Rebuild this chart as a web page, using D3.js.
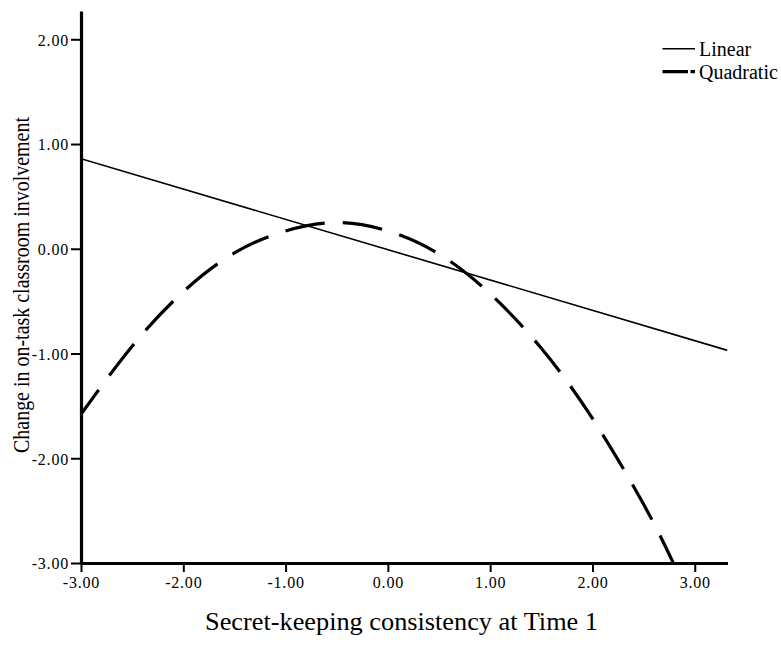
<!DOCTYPE html>
<html>
<head>
<meta charset="utf-8">
<script src="https://cdn.jsdelivr.net/npm/d3@7"></script>
<style>
  html, body { margin: 0; padding: 0; background: #fff; }
  svg { display: block; }
  text { font-family: "Liberation Serif", "Times New Roman", Times, serif; fill: #000; }
</style>
</head>
<body>
<svg id="chart" width="781" height="648"></svg>
<script>
// ---- data ----
const xTicks = [-3, -2, -1, 0, 1, 2, 3];
const yTicks = [-3, -2, -1, 0, 1, 2];
const linearX = [-3, 3.32];
const linearY = [0.86, -0.97];
const quadX = [-3, -2.5, -2, -1.5, -1, -0.5, 0, 0.5, 1, 1.5, 2, 2.5, 2.79];
const quadY = [-1.58, -0.93, -0.41, -0.04, 0.17, 0.25, 0.17, -0.05, -0.43, -0.95, -1.62, -2.44, -3.0];
const seriesNames = ["Linear", "Quadratic"];
const xTitle = "Secret-keeping consistency at Time 1";
const yTitle = "Change in on-task classroom involvement";

const SERIF = '"Liberation Serif", "Times New Roman", Times, serif';
const svg = d3.select("#chart");
const x = d3.scaleLinear().domain([-3, 3.32]).range([81, 727.5]);
const y = d3.scaleLinear().domain([-3, 2.27]).range([563, 11]);
const fmt = d => d.toFixed(2);

// axes
const gx = svg.append("g").attr("transform", `translate(0,${y(-3)})`)
  .call(d3.axisBottom(x).tickValues(xTicks).tickFormat(fmt).tickSize(9).tickSizeOuter(0).tickPadding(4));
const gy = svg.append("g").attr("transform", `translate(${x(-3)},0)`)
  .call(d3.axisLeft(y).tickValues(yTicks).tickFormat(fmt).tickSize(10).tickSizeOuter(0).tickPadding(2));

[gx, gy].forEach(g => {
  g.attr("font-family", SERIF).attr("font-size", 16);
  g.select(".domain").attr("stroke", "#000").attr("stroke-width", 3.2);
  g.selectAll(".tick line").attr("stroke", "#000").attr("stroke-width", 2);
  g.selectAll(".tick text")
    .style("font-family", SERIF)
    .style("font-size", "16px").style("letter-spacing", "0.8px").attr("fill", "#000");
});
gy.selectAll(".tick text").attr("dy", "0.36em");
gx.selectAll(".tick text").attr("dy", "0.72em");

// clip region
svg.append("clipPath").attr("id", "plotclip").append("rect")
  .attr("x", x(-3)).attr("y", y(2.27)).attr("width", x(3.32) - x(-3)).attr("height", y(-3) - y(2.27));

const lineGen = d3.line().x(d => x(d[0])).y(d => y(d[1]));

// linear fit
svg.append("path")
  .datum(linearX.map((v, i) => [v, linearY[i]]))
  .attr("d", lineGen)
  .attr("fill", "none").attr("stroke", "#000").attr("stroke-width", 1.6)
  .attr("clip-path", "url(#plotclip)");

// quadratic fit
svg.append("path")
  .datum(quadX.map((v, i) => [v, quadY[i]]))
  .attr("d", lineGen.curve(d3.curveNatural))
  .attr("fill", "none").attr("stroke", "#000").attr("stroke-width", 3.2)
  .attr("stroke-dasharray", "40,18").attr("stroke-dashoffset", 10);

// legend
const legend = svg.append("g");
const legY = [48.7, 71.7];
seriesNames.forEach((name, i) => {
  const ln = legend.append("line")
    .attr("x1", 662.5).attr("x2", 695).attr("y1", legY[i]).attr("y2", legY[i])
    .attr("stroke", "#000");
  if (i === 0) ln.attr("stroke-width", 1.6);
  else ln.attr("stroke-width", 3.2).attr("stroke-dasharray", "25.5,2.5,5,100");
  legend.append("text").attr("x", 699).attr("y", legY[i] + 7.5)
    .style("font-size", "20px").text(name);
});

// axis titles
svg.append("text").attr("x", 401.5).attr("y", 630)
  .attr("text-anchor", "middle").style("font-size", "25.5px")
  .attr("textLength", 393).attr("lengthAdjust", "spacingAndGlyphs")
  .text(xTitle);

svg.append("text").attr("transform", "translate(28.5,285) rotate(-90)")
  .attr("text-anchor", "middle").style("font-size", "23px")
  .attr("textLength", 336).attr("lengthAdjust", "spacingAndGlyphs")
  .text(yTitle);
</script>
</body>
</html>
